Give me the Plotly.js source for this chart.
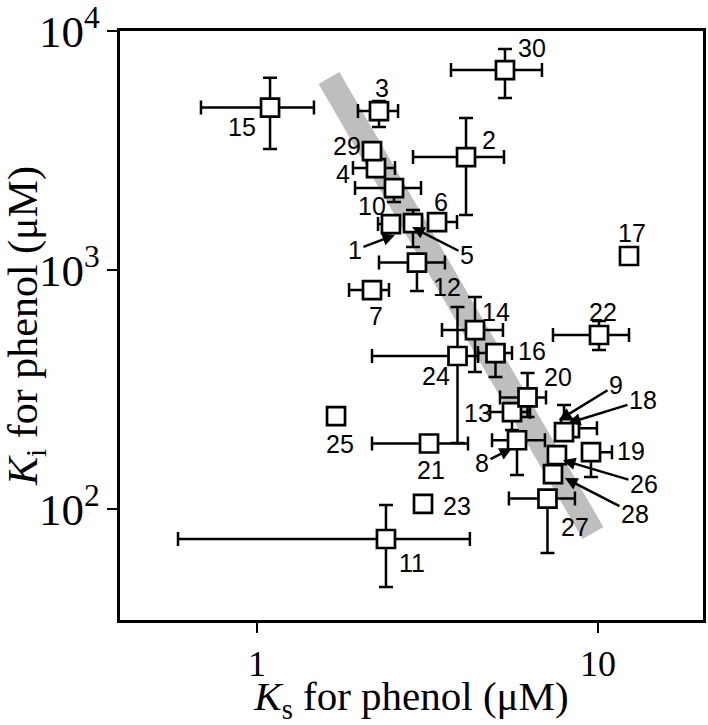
<!DOCTYPE html>
<html><head><meta charset="utf-8">
<script src="https://cdn.plot.ly/plotly-3.0.1.min.js"></script>
<style>body{margin:0;background:#fff}</style>
</head><body><div id="chart" style="width:708px;height:725px"></div>
<script>
// point labels 1..30
const labels = ['1','2','3','4','5','6','7','8','9','10','11','12','13','14','15','16','17','18','19','20','21','22','23','24','25','26','27','28','29','30'];
// Ks for phenol (µM)
const ks = [2.471,4.102,2.279,2.233,2.868,3.373,2.174,5.788,7.95,2.522,2.389,2.945,5.595,4.358,1.092,5.006,12.33,8.277,9.54,6.214,3.195,10.07,3.068,3.873,1.705,7.58,7.11,7.38,2.174,5.337];
// Ki for phenol (µM)
const ki = [1558,2970,4627,2672,1573,1588,825,194,210,2203,74.9,1075,254.6,561,4786,449.5,1145,218,173,293,188,535,105,437,245,168,110.6,140,3147,6868];
// error bar bounds (null = no bar on that side)
const ksLow  = [2.264,2.868,1.977,1.912,null,null,1.862,4.89,null,1.939,0.5866,2.279,4.825,3.487,0.685,4.446,null,null,null,5.16,2.174,7.38,null,2.174,null,null,5.48,null,null,3.706];
const ksHigh = [null,5.301,2.592,2.539,null,3.86,2.438,6.99,null,3.027,4.21,3.558,6.32,5.265,1.469,5.595,null,9.93,10.99,7.04,4.157,12.33,null,4.45,null,null,8.56,null,null,6.85];
const kiLow  = [null,1699,3966,null,1248,null,null,138.8,null,1925,47.2,817,214.1,374.3,3209,356.6,null,null,136.1,242.7,null,462.7,null,188.9,null,null,65.4,null,null,5244];
const kiHigh = [null,4325,5094,null,1782,null,null,null,272.3,null,103.9,null,null,771,6378,null,null,null,null,370.7,null,612,null,700,null,null,null,null,null,8408];
// grey trend band end points
const bandKs = [1.626, 9.67];
const bandKi = [6359, 79.4];

const n = labels.length;
const order = [];
for (let i = 0; i < n; i++) order.push(i);
// point 18 lies hidden behind point 9: draw it first
order.splice(order.indexOf(17), 1); order.unshift(17);

const plus = (hi, v) => hi.map((h, i) => h == null ? 0 : h - v[i]);
const minus = (lo, v) => lo.map((l, i) => l == null ? 0 : v[i] - l);
const exP = plus(ksHigh, ks), exM = minus(ksLow, ks);
const eyP = plus(kiHigh, ki), eyM = minus(kiLow, ki);
const pick = a => order.map(i => a[i]);

const band = {
  x: bandKs, y: bandKi, mode: 'lines', type: 'scatter', hoverinfo: 'skip',
  line: {color: 'rgb(190,190,190)', width: 24}, showlegend: false
};
const pts = {
  x: pick(ks), y: pick(ki), text: pick(labels), mode: 'markers', type: 'scatter', showlegend: false,
  marker: {symbol: 'square', size: 18, color: 'white', line: {color: 'black', width: 2.7}},
  error_x: {type: 'data', symmetric: false, array: pick(exP), arrayminus: pick(exM), color: 'black', thickness: 2.5, width: 7},
  error_y: {type: 'data', symmetric: false, array: pick(eyP), arrayminus: pick(eyM), color: 'black', thickness: 2.5, width: 7}
};

// label placement: [dx, dy] screen-pixel offset from the point (dy down)
const plain = {
  '2':[23,-17],'3':[3,-23],'4':[-33,6],'6':[4,-20],'7':[4,26],'10':[-22,18],'11':[26,24],
  '12':[30,24.5],'13':[-34,1],'14':[21,-18],'15':[-28,19.5],'16':[36,-2],'17':[3,-23],
  '19':[40,-1],'20':[30,-20],'21':[2,26.5],'22':[4,-23],'23':[34,2],'24':[-22,20],
  '25':[4,28],'27':[27.5,28.5],'29':[-25,-5],'30':[27,-22]
};
// arrowed labels: [headShiftX, headShiftY, ax, ay]
const arrowed = {
  '1':[4,11,-40,15],'5':[-1,4,55,28],'8':[-5,8,-30,15],'9':[-5,-12,57,-35],
  '18':[-2,-5,75,-23],'26':[6,5,81,24],'28':[12,4,70,36]
};
const lblFont = {family: 'Liberation Sans, Arial, sans-serif', size: 25, color: 'black'};
const annotations = [];
labels.forEach((lab, i) => {
  const x = Math.log10(ks[i]), y = Math.log10(ki[i]);
  if (plain[lab]) {
    const [dx, dy] = plain[lab];
    annotations.push({x, y, xref: 'x', yref: 'y', text: lab, showarrow: false, xshift: dx, yshift: -dy, font: lblFont});
  } else if (arrowed[lab]) {
    const [sx, sy, ax, ay] = arrowed[lab];
    annotations.push({x, y, xref: 'x', yref: 'y', text: lab, showarrow: true, xshift: sx, yshift: -sy,
      ax, ay, arrowhead: 2, arrowsize: 1, arrowwidth: 2.5, arrowcolor: 'black', standoff: 0, font: lblFont});
  }
});

const serif = 'Liberation Serif, Times New Roman, serif';
const axisCommon = {
  type: 'log', dtick: 1, ticks: 'outside', ticklen: 10, tickwidth: 2.5, tickcolor: 'black',
  showline: true, mirror: true, linewidth: 3, linecolor: 'black', showgrid: false, zeroline: false,
  ticklabeloverflow: 'allow',
  tickfont: {family: serif, size: 36, color: 'black'}
};
const layout = {
  width: 708, height: 725,
  margin: {l: 120, r: 5, t: 31, b: 105},
  paper_bgcolor: 'white', plot_bgcolor: 'white',
  xaxis: Object.assign({}, axisCommon, {
    range: [-0.4018, 1.308],
    title: {text: '\u00a0\u00a0\u00a0\u00a0\u00a0\u00a0<i>K</i><sub>s</sub> for phenol (μM)', font: {family: serif, size: 41, color: 'black'}, standoff: 9}
  }),
  yaxis: Object.assign({}, axisCommon, {
    range: [1.5356, 4.0005], exponentformat: 'power',
    title: {text: '<i>K</i><sub>i</sub> for phenol (μM)', font: {family: serif, size: 42, color: 'black'}, standoff: 4}
  }),
  annotations
};
Plotly.newPlot('chart', [band, pts], layout, {displayModeBar: false, staticPlot: true});
</script>
</body></html>
